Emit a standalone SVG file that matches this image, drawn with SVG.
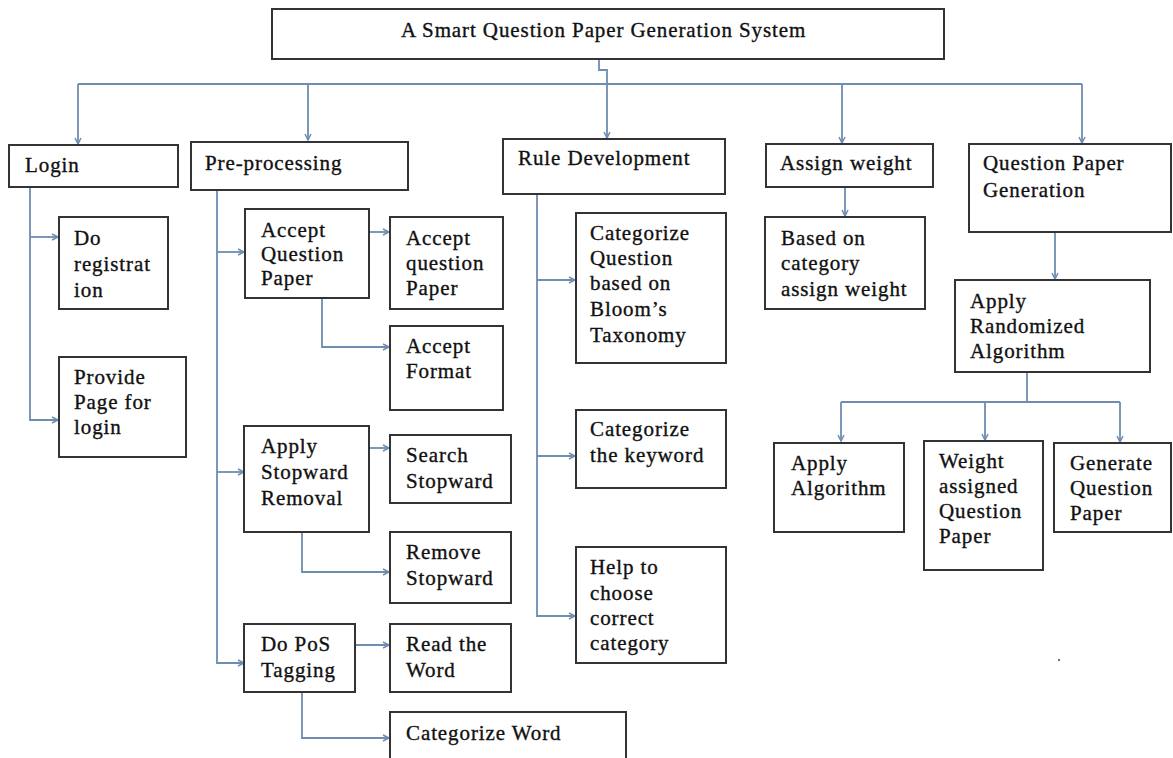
<svg xmlns="http://www.w3.org/2000/svg" width="1173" height="758" viewBox="0 0 1173 758">
<style>
.box{fill:#fff;stroke:#333;stroke-width:2}
.t{font-family:"Liberation Serif","Times New Roman",serif;font-size:21px;letter-spacing:0.9px;fill:#111;stroke:#111;stroke-width:0.35}
.c{fill:none;stroke:#6e8db0;stroke-width:1.8}
</style>
<defs>
<marker id="ar" markerUnits="userSpaceOnUse" markerWidth="10" markerHeight="10" refX="7" refY="4" orient="auto">
<path d="M1,1 L7,4 L1,7" fill="none" stroke="#6e8db0" stroke-width="1.5"/>
</marker>
</defs>
<rect width="1173" height="758" fill="#fff"/>
<g id="connectors">
<path class="c" d="M599,60 V70 H607 V138" marker-end="url(#ar)"/>
<path class="c" d="M78,84 H1082"/>
<path class="c" d="M78,84 V144" marker-end="url(#ar)"/>
<path class="c" d="M308,84 V140" marker-end="url(#ar)"/>
<path class="c" d="M842,84 V143" marker-end="url(#ar)"/>
<path class="c" d="M1082,84 V143" marker-end="url(#ar)"/>
<path class="c" d="M30,188 V420 H58" marker-end="url(#ar)"/>
<path class="c" d="M30,237 H58" marker-end="url(#ar)"/>
<path class="c" d="M217,190 V663 H244" marker-end="url(#ar)"/>
<path class="c" d="M217,252 H244" marker-end="url(#ar)"/>
<path class="c" d="M217,472 H244" marker-end="url(#ar)"/>
<path class="c" d="M369,232 H389" marker-end="url(#ar)"/>
<path class="c" d="M322,298 V347 H389" marker-end="url(#ar)"/>
<path class="c" d="M369,448 H389" marker-end="url(#ar)"/>
<path class="c" d="M302,532 V572 H389" marker-end="url(#ar)"/>
<path class="c" d="M355,645 H389" marker-end="url(#ar)"/>
<path class="c" d="M302,692 V738 H389" marker-end="url(#ar)"/>
<path class="c" d="M537,194 V616 H575" marker-end="url(#ar)"/>
<path class="c" d="M537,280 H575" marker-end="url(#ar)"/>
<path class="c" d="M537,456 H575" marker-end="url(#ar)"/>
<path class="c" d="M845,187 V216" marker-end="url(#ar)"/>
<path class="c" d="M1055,232 V279" marker-end="url(#ar)"/>
<path class="c" d="M1027,372 V402"/>
<path class="c" d="M841,402 H1120"/>
<path class="c" d="M841,402 V441" marker-end="url(#ar)"/>
<path class="c" d="M985,402 V440" marker-end="url(#ar)"/>
<path class="c" d="M1120,402 V442" marker-end="url(#ar)"/>
</g>
<g id="title"><rect class="box" x="272" y="9" width="672" height="50"/><text class="t" x="401" y="37">A Smart Question Paper Generation System</text></g>
<g id="login"><rect class="box" x="9" y="145" width="169" height="42"/><text class="t" x="25" y="172">Login</text></g>
<g id="preprocessing"><rect class="box" x="191" y="142" width="217" height="48"/><text class="t" x="205" y="170">Pre-processing</text></g>
<g id="rule-development"><rect class="box" x="503" y="139" width="222" height="55"/><text class="t" x="518" y="165">Rule Development</text></g>
<g id="assign-weight"><rect class="box" x="766" y="144" width="167" height="43"/><text class="t" x="780" y="170">Assign weight</text></g>
<g id="qp-generation"><rect class="box" x="969" y="144" width="202" height="88"/><text class="t" x="983" y="170">Question Paper</text><text class="t" x="983" y="197">Generation</text></g>
<g id="do-registration"><rect class="box" x="59" y="217" width="109" height="92"/><text class="t" x="74" y="245">Do</text><text class="t" x="74" y="271">registrat</text><text class="t" x="74" y="297">ion</text></g>
<g id="provide-page"><rect class="box" x="59" y="357" width="127" height="100"/><text class="t" x="74" y="384">Provide</text><text class="t" x="74" y="409">Page for</text><text class="t" x="74" y="434">login</text></g>
<g id="accept-qp"><rect class="box" x="245" y="209" width="124" height="89"/><text class="t" x="261" y="237">Accept</text><text class="t" x="261" y="261">Question</text><text class="t" x="261" y="285">Paper</text></g>
<g id="accept-question-paper"><rect class="box" x="390" y="217" width="113" height="92"/><text class="t" x="406" y="245">Accept</text><text class="t" x="406" y="270">question</text><text class="t" x="406" y="295">Paper</text></g>
<g id="accept-format"><rect class="box" x="390" y="326" width="113" height="84"/><text class="t" x="406" y="353">Accept</text><text class="t" x="406" y="378">Format</text></g>
<g id="apply-stopward"><rect class="box" x="244" y="426" width="125" height="106"/><text class="t" x="261" y="453">Apply</text><text class="t" x="261" y="479">Stopward</text><text class="t" x="261" y="505">Removal</text></g>
<g id="search-stopward"><rect class="box" x="390" y="435" width="121" height="68"/><text class="t" x="406" y="462">Search</text><text class="t" x="406" y="488">Stopward</text></g>
<g id="remove-stopward"><rect class="box" x="390" y="532" width="121" height="71"/><text class="t" x="406" y="559">Remove</text><text class="t" x="406" y="585">Stopward</text></g>
<g id="pos-tagging"><rect class="box" x="244" y="624" width="111" height="68"/><text class="t" x="261" y="651">Do PoS</text><text class="t" x="261" y="677">Tagging</text></g>
<g id="read-word"><rect class="box" x="390" y="624" width="121" height="68"/><text class="t" x="406" y="651">Read the</text><text class="t" x="406" y="677">Word</text></g>
<g id="categorize-word"><rect class="box" x="390" y="712" width="236" height="60"/><text class="t" x="406" y="740">Categorize Word</text></g>
<g id="categorize-question"><rect class="box" x="576" y="213" width="150" height="150"/><text class="t" x="590" y="240">Categorize</text><text class="t" x="590" y="265">Question</text><text class="t" x="590" y="290">based on</text><text class="t" x="590" y="316">Bloom’s</text><text class="t" x="590" y="342">Taxonomy</text></g>
<g id="categorize-keyword"><rect class="box" x="576" y="410" width="150" height="78"/><text class="t" x="590" y="436">Categorize</text><text class="t" x="590" y="462">the keyword</text></g>
<g id="help-choose"><rect class="box" x="576" y="547" width="150" height="116"/><text class="t" x="590" y="574">Help to</text><text class="t" x="590" y="600">choose</text><text class="t" x="590" y="625">correct</text><text class="t" x="590" y="650">category</text></g>
<g id="based-on-category"><rect class="box" x="765" y="217" width="160" height="92"/><text class="t" x="781" y="245">Based on</text><text class="t" x="781" y="270">category</text><text class="t" x="781" y="296">assign weight</text></g>
<g id="apply-randomized"><rect class="box" x="955" y="280" width="195" height="92"/><text class="t" x="970" y="308">Apply</text><text class="t" x="970" y="333">Randomized</text><text class="t" x="970" y="358">Algorithm</text></g>
<g id="apply-algorithm"><rect class="box" x="774" y="443" width="130" height="89"/><text class="t" x="791" y="470">Apply</text><text class="t" x="791" y="495">Algorithm</text></g>
<g id="weight-assigned"><rect class="box" x="924" y="441" width="119" height="129"/><text class="t" x="939" y="468">Weight</text><text class="t" x="939" y="493">assigned</text><text class="t" x="939" y="518">Question</text><text class="t" x="939" y="543">Paper</text></g>
<g id="generate-qp"><rect class="box" x="1054" y="443" width="117" height="89"/><text class="t" x="1070" y="470">Generate</text><text class="t" x="1070" y="495">Question</text><text class="t" x="1070" y="520">Paper</text></g>
<circle cx="1059" cy="660" r="1.2" fill="#777"/>
</svg>
